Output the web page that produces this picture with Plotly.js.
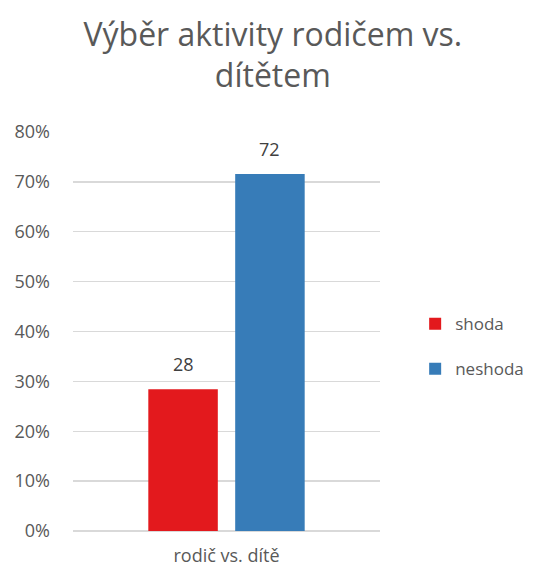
<!DOCTYPE html>
<html>
<head>
<meta charset="utf-8">
<script src="https://cdn.plot.ly/plotly-3.0.1.min.js"></script>
<style>html,body{margin:0;padding:0;background:#fff;}#chart{width:535px;height:571px;}</style>
</head>
<body>
<div id="chart"></div>
<script>
const categories = ["rodič vs. dítě"];
const seriesNames = ["shoda", "neshoda"];
const shodaValues = [28.4];
const neshodaValues = [71.6];
const seriesColors = ["#e3191d", "#377cb8"];
const yTickValues = [0, 10, 20, 30, 40, 50, 60, 70, 80];
const yTickText = ["0%", "10%", "20%", "30%", "40%", "50%", "60%", "70%", "80%"];
const titleText = "Výběr aktivity rodičem vs.<br>dítětem";

const font = "Open Sans, Noto Sans, sans-serif";
const grey = "#595959";
const bargap = 0.434;
const bargroupgap = 0.2;
const allSeries = [shodaValues, neshodaValues];

const traces = allSeries.map((vals, i) => ({
  type: "bar",
  name: seriesNames[i],
  legendgroup: seriesNames[i],
  x: categories,
  y: vals,
  marker: {color: seriesColors[i]},
  hoverinfo: "none"
}));

// data labels placed through the axis scales (category index + group offset)
const slot = (1 - bargap) / allSeries.length;
const annotations = [];
allSeries.forEach((vals, i) => {
  vals.forEach((v, j) => {
    annotations.push({
      xref: "x", yref: "y",
      x: j - (1 - bargap) / 2 + slot * (i + 0.5),
      y: v,
      text: String(Math.round(v)),
      showarrow: false,
      yanchor: "bottom",
      yshift: 11,
      font: {family: font, size: 18, color: "#404040"}
    });
  });
});

const layout = {
  width: 535,
  height: 571,
  margin: {l: 73, r: 155, t: 132, b: 40, autoexpand: false},
  paper_bgcolor: "#fff",
  plot_bgcolor: "#fff",
  font: {family: font, color: grey},
  title: {
    text: titleText,
    font: {family: font, size: 32, color: grey},
    x: 0.51, xanchor: "center",
    y: 0.92, yanchor: "middle"
  },
  barmode: "group",
  bargap: bargap,
  bargroupgap: bargroupgap,
  showlegend: true,
  legend: {
    xref: "container",
    x: 0.776, xanchor: "left",
    y: 0.462, yanchor: "middle",
    font: {family: font, size: 17, color: grey},
    tracegroupgap: 20,
    bgcolor: "rgba(0,0,0,0)"
  },
  annotations: annotations,
  xaxis: {
    type: "category",
    showgrid: false,
    showline: false,
    ticks: "",
    ticklabelstandoff: 12,
    tickfont: {family: font, size: 18, color: grey},
    fixedrange: true
  },
  yaxis: {
    range: [0, 80],
    tickmode: "array",
    tickvals: yTickValues,
    ticktext: yTickText,
    showgrid: true,
    gridcolor: "#d9d9d9",
    gridwidth: 1.3,
    zeroline: true,
    zerolinecolor: "#d9d9d9",
    zerolinewidth: 1.3,
    showline: false,
    ticks: "",
    ticklabelstandoff: 22,
    tickfont: {family: font, size: 18, color: grey},
    fixedrange: true
  }
};

Plotly.newPlot("chart", traces, layout, {displayModeBar: false, staticPlot: true});
</script>
</body>
</html>
